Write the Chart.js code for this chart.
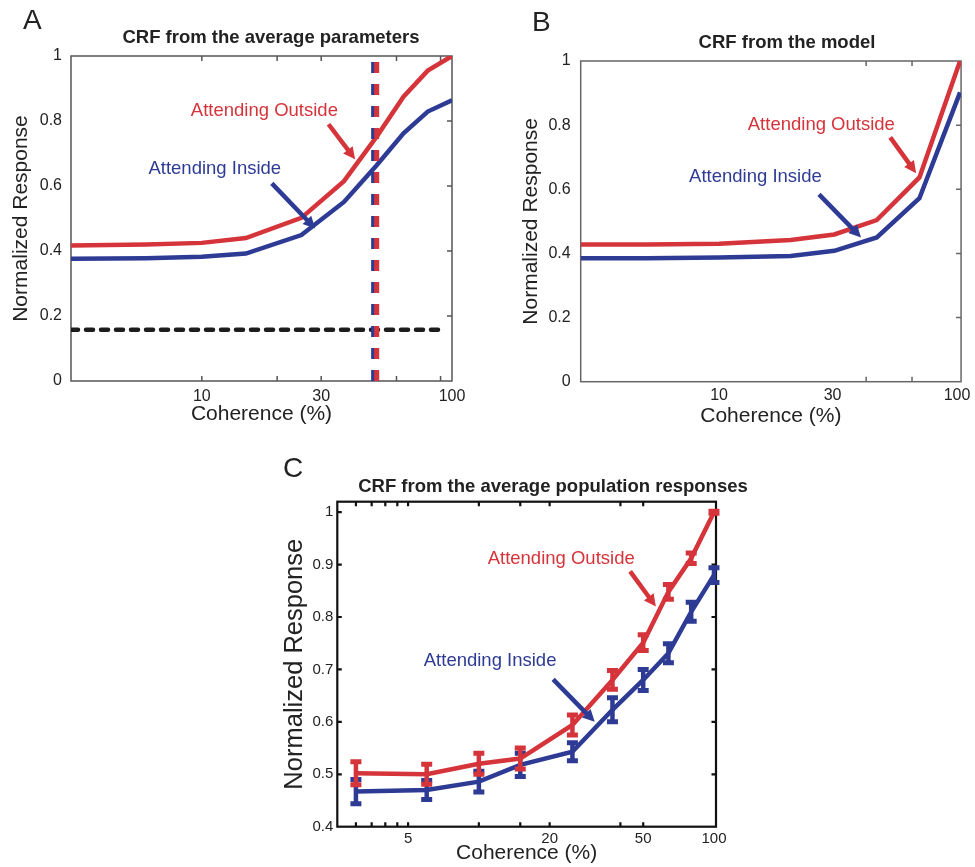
<!DOCTYPE html>
<html lang="en">

<head>
  <meta charset="UTF-8" />
  <title>CRF - attention</title>
  <style>
    * {
      margin: 0;
      padding: 0;
      box-sizing: border-box;
    }

    body {
      width: 975px;
      height: 867px;
      background: #fff;
      position: relative;
      overflow: hidden;
      font-family: 'Liberation Sans', Arial, sans-serif;
      color: #222;
    }

    .panel {
      position: absolute;
    }

    .letter {
      position: absolute;
      font-size: 28px;
      line-height: 28px;
    }

    .title {
      position: absolute;
      width: 500px;
      text-align: center;
      font-weight: bold;
      font-size: 18.5px;
      line-height: 20px;
    }
  </style>
</head>

<body>
  <div class="panel" style="left:0; top:0; width:480px; height:430px;"><canvas id="chartA"></canvas></div>
  <div class="panel" style="left:480px; top:0; width:495px; height:430px;"><canvas id="chartB"></canvas></div>
  <div class="panel" style="left:280px; top:455px; width:460px; height:412px;"><canvas id="chartC"></canvas></div>

  <div class="letter" style="left:23px; top:6px;">A</div>
  <div class="letter" style="left:532px; top:8px;">B</div>
  <div class="letter" style="left:283px; top:454px;">C</div>
  <div class="title" style="left:21px; top:27px;">CRF from the average parameters</div>
  <div class="title" style="left:537px; top:32px;">CRF from the model</div>
  <div class="title" style="left:303px; top:476px;">CRF from the average population responses</div>

  <script src="https://cdn.jsdelivr.net/npm/chart.js"></script>

  <script>
    const RED = '#d5343a';
    const BLUE = '#2e3b95';
    const FONT = "'Liberation Sans', Arial, sans-serif";
    const NARROW = "'Liberation Sans Narrow', 'Liberation Sans', Arial, sans-serif";

    // A - CRF from the average parameters
    const cohA = [3, 6, 10, 15, 25, 37, 50, 64, 80, 100];
    const outsideA = [0.417, 0.420, 0.425, 0.440, 0.502, 0.615, 0.752, 0.875, 0.955, 1.000];
    const insideA = [0.376, 0.378, 0.382, 0.392, 0.449, 0.551, 0.664, 0.762, 0.829, 0.864];
    const baselineA = 0.158;
    const baselineRangeA = [3, 94];
    const c50InsideA = 48.5;
    const c50OutsideA = 50;
    const xLabelsA = [10, 30, 100];
    const xMarksA = [10, 20, 30, 60, 90];

    // B - CRF from the model
    const cohB = [2.62, 5, 10, 20, 30.5, 46, 69.5, 103];
    const outsideB = [0.428, 0.428, 0.430, 0.442, 0.459, 0.504, 0.637, 1.000];
    const insideB = [0.385, 0.385, 0.387, 0.392, 0.408, 0.450, 0.572, 0.902];
    const xLabelsB = [10, 30, 100];
    const xMarksB = [41.5, 64.7];

    const yLabelsAB = [0, 0.2, 0.4, 0.6, 0.8, 1];
    const yMarksAB = [0.2, 0.4, 0.6, 0.8];

    // C - CRF from the average population responses
    const cohC = [3, 6, 10, 15, 25, 37, 50, 64, 80, 100];
    const outsideC = [0.502, 0.500, 0.520, 0.530, 0.594, 0.680, 0.751, 0.848, 0.912, 1.000];
    const outsideErrC = [0.022, 0.019, 0.020, 0.020, 0.019, 0.018, 0.015, 0.014, 0.010, 0.002];
    const insideC = [0.467, 0.470, 0.486, 0.518, 0.543, 0.623, 0.680, 0.731, 0.810, 0.880];
    const insideErrC = [0.023, 0.018, 0.020, 0.022, 0.017, 0.023, 0.020, 0.018, 0.018, 0.014];
    const xLabelsC = [5, 20, 50, 100];
    const xMarksC = [3, 3.5, 4, 4.5, 5, 10, 15, 20, 40, 50];
    const yLabelsC = [0.4, 0.5, 0.6, 0.7, 0.8, 0.9, 1];
    const yMarksC = [0.5, 0.6, 0.7, 0.8, 0.9, 1];

    const pts = (xs, ys) => xs.map((x, i) => ({ x, y: ys[i] }));

    // box around the plot with inward tick marks (matlab look)
    const framePlugin = {
      id: 'frame',
      beforeDatasetsDraw(chart, args, opts) {
        const { ctx, chartArea: a, scales: { x, y } } = chart;
        ctx.save();
        ctx.strokeStyle = opts.color;
        ctx.lineWidth = opts.width;
        ctx.strokeRect(a.left, a.top, a.right - a.left, a.bottom - a.top);
        ctx.beginPath();
        opts.xMarks.forEach(v => {
          const px = x.getPixelForValue(v);
          ctx.moveTo(px, a.bottom); ctx.lineTo(px, a.bottom - opts.len);
          ctx.moveTo(px, a.top); ctx.lineTo(px, a.top + opts.len);
        });
        opts.yMarks.forEach(v => {
          const py = y.getPixelForValue(v);
          if (opts.leftMarks) { ctx.moveTo(a.left, py); ctx.lineTo(a.left + opts.len, py); }
          ctx.moveTo(a.right, py); ctx.lineTo(a.right - opts.len, py);
        });
        ctx.stroke();
        ctx.restore();
      }
    };

    // error bars, drawn right after their own line
    const errorPlugin = {
      id: 'errbars',
      afterDatasetDraw(chart, args, opts) {
        const errs = opts.errors && opts.errors[args.index];
        if (!errs) return;
        const { ctx, scales: { y } } = chart;
        const ds = chart.data.datasets[args.index];
        ctx.save();
        ctx.strokeStyle = ds.borderColor;
        args.meta.data.forEach((p, i) => {
          const top = y.getPixelForValue(ds.data[i].y + errs[i]);
          const bot = y.getPixelForValue(ds.data[i].y - errs[i]);
          ctx.lineWidth = 4.5;
          ctx.beginPath();
          ctx.moveTo(p.x, top); ctx.lineTo(p.x, bot);
          ctx.stroke();
          ctx.lineWidth = 5;
          ctx.beginPath();
          ctx.moveTo(p.x - 5.5, top); ctx.lineTo(p.x + 5.5, top);
          ctx.moveTo(p.x - 5.5, bot); ctx.lineTo(p.x + 5.5, bot);
          ctx.stroke();
        });
        ctx.restore();
      }
    };

    function drawArrow(ctx, x1, y1, x2, y2, color) {
      const ang = Math.atan2(y2 - y1, x2 - x1);
      const head = 12, half = 6;
      ctx.strokeStyle = color;
      ctx.fillStyle = color;
      ctx.lineWidth = 4.5;
      ctx.beginPath();
      ctx.moveTo(x1, y1);
      ctx.lineTo(x2 - head * 0.7 * Math.cos(ang), y2 - head * 0.7 * Math.sin(ang));
      ctx.stroke();
      const bx = x2 - head * Math.cos(ang), by = y2 - head * Math.sin(ang);
      ctx.beginPath();
      ctx.moveTo(x2, y2);
      ctx.lineTo(bx + half * Math.sin(ang), by - half * Math.cos(ang));
      ctx.lineTo(bx - half * Math.sin(ang), by + half * Math.cos(ang));
      ctx.closePath();
      ctx.fill();
    }

    // "Attending ..." labels and their arrows, placed in data coordinates
    const notesPlugin = {
      id: 'notes',
      afterDatasetsDraw(chart, args, opts) {
        const { ctx, scales: { x, y } } = chart;
        ctx.save();
        ctx.font = '18.5px ' + FONT;
        ctx.textAlign = 'left';
        ctx.textBaseline = 'middle';
        opts.texts.forEach(t => {
          ctx.fillStyle = t.color;
          ctx.fillText(t.text, x.getPixelForValue(t.x), y.getPixelForValue(t.y));
        });
        opts.arrows.forEach(a => {
          drawArrow(ctx, x.getPixelForValue(a.x1), y.getPixelForValue(a.y1),
            x.getPixelForValue(a.x2), y.getPixelForValue(a.y2), a.color);
        });
        ctx.restore();
      }
    };

    function xScale(min, max, labels, o) {
      return {
        type: 'logarithmic',
        min, max,
        afterBuildTicks: s => { s.ticks = labels.map(v => ({ value: v })); },
        afterFit: s => { s.height = o.height; },
        grid: { display: false, drawTicks: false },
        border: { display: false },
        ticks: {
          autoSkip: false, maxRotation: 0, padding: o.pad, color: '#222',
          font: o.font, callback: v => String(v)
        },
        title: {
          display: true, text: 'Coherence (%)', color: '#222',
          font: { family: FONT, size: 21 }, padding: { top: 0, bottom: o.titlePad }
        }
      };
    }

    function yScale(min, max, labels, o) {
      return {
        type: 'linear',
        min, max,
        afterBuildTicks: s => { s.ticks = labels.map(v => ({ value: v })); },
        afterFit: s => { s.width = o.width; },
        grid: { display: false, drawTicks: false },
        border: { display: false },
        ticks: {
          padding: o.pad, color: '#222', font: o.font,
          callback: v => String(Math.round(v * 100) / 100)
        },
        title: {
          display: true, text: 'Normalized Response', color: '#222',
          font: { family: FONT, size: o.titleSize }, padding: { top: o.titlePad, bottom: 0 }
        }
      };
    }

    const common = {
      responsive: true,
      maintainAspectRatio: false,
      animation: false,
      events: []
    };

    function renderA() {
      new Chart(document.getElementById('chartA'), {
        type: 'line',
        data: {
          datasets: [
            { label: 'c50 outside', data: [{ x: c50OutsideA, y: 0 }, { x: c50OutsideA, y: 1 }], borderColor: RED, borderWidth: 5, borderDash: [11, 11], pointRadius: 0 },
            { label: 'c50 inside', data: [{ x: c50InsideA, y: 0 }, { x: c50InsideA, y: 1 }], borderColor: BLUE, borderWidth: 4.5, borderDash: [11, 11], pointRadius: 0 },
            { label: 'baseline', data: baselineRangeA.map(x => ({ x, y: baselineA })), borderColor: '#1c1c1c', borderWidth: 4.5, borderDash: [7, 8], borderCapStyle: 'round', pointRadius: 0 },
            { label: 'Attending Outside', data: pts(cohA, outsideA), borderColor: RED, borderWidth: 4.5, pointRadius: 0, tension: 0 },
            { label: 'Attending Inside', data: pts(cohA, insideA), borderColor: BLUE, borderWidth: 4.5, pointRadius: 0, tension: 0 }
          ]
        },
        options: {
          ...common,
          layout: { padding: { left: 0, top: 56, right: 28, bottom: 0 } },
          scales: {
            x: xScale(3, 100, xLabelsA, { height: 49, pad: 6, titlePad: 3, font: { family: FONT, size: 16 } }),
            y: yScale(0, 1, yLabelsAB, { width: 71, pad: 9, titlePad: 8.7, titleSize: 21, font: { family: FONT, size: 16 } })
          },
          plugins: {
            legend: { display: false },
            tooltip: { enabled: false },
            frame: { color: '#555', width: 1.5, len: 5, xMarks: xMarksA, yMarks: yMarksAB, leftMarks: false },
            notes: {
              texts: [
                { text: 'Attending Outside', x: 9.04, y: 0.831, color: RED },
                { text: 'Attending Inside', x: 6.12, y: 0.654, color: BLUE }
              ],
              arrows: [
                { x1: 32.1, y1: 0.79, x2: 41, y2: 0.682, color: RED },
                { x1: 19.05, y1: 0.608, x2: 28.4, y2: 0.469, color: BLUE }
              ]
            }
          }
        },
        plugins: [framePlugin, notesPlugin]
      });
    }

    function renderB() {
      new Chart(document.getElementById('chartB'), {
        type: 'line',
        data: {
          datasets: [
            { label: 'Attending Outside', data: pts(cohB, outsideB), borderColor: RED, borderWidth: 4.5, pointRadius: 0, tension: 0 },
            { label: 'Attending Inside', data: pts(cohB, insideB), borderColor: BLUE, borderWidth: 4.5, pointRadius: 0, tension: 0 }
          ]
        },
        options: {
          ...common,
          layout: { padding: { left: 0, top: 61, right: 13.3, bottom: 0 } },
          scales: {
            x: xScale(2.62, 104, xLabelsB, { height: 48.3, pad: 4.5, titlePad: 1.5, font: { family: FONT, size: 16 } }),
            y: yScale(0, 1, yLabelsAB, { width: 100.7, pad: 10, titlePad: 38.7, titleSize: 21, font: { family: FONT, size: 16 } })
          },
          plugins: {
            legend: { display: false },
            tooltip: { enabled: false },
            frame: { color: '#666', width: 1.5, len: 5, xMarks: xMarksB, yMarks: yMarksAB, leftMarks: false },
            notes: {
              texts: [
                { text: 'Attending Outside', x: 13.2, y: 0.80, color: RED },
                { text: 'Attending Inside', x: 7.48, y: 0.639, color: BLUE }
              ],
              arrows: [
                { x1: 52.4, y1: 0.762, x2: 67.3, y2: 0.65, color: RED },
                { x1: 26.3, y1: 0.584, x2: 39.5, y2: 0.45, color: BLUE }
              ]
            }
          }
        },
        plugins: [framePlugin, notesPlugin]
      });
    }

    function renderC() {
      new Chart(document.getElementById('chartC'), {
        type: 'line',
        data: {
          datasets: [
            { label: 'Attending Outside', data: pts(cohC, outsideC), borderColor: RED, borderWidth: 4.5, pointRadius: 0, tension: 0 },
            { label: 'Attending Inside', data: pts(cohC, insideC), borderColor: BLUE, borderWidth: 4.5, pointRadius: 0, tension: 0 }
          ]
        },
        options: {
          ...common,
          layout: { padding: { left: 0, top: 46.7, right: 24, bottom: 0 } },
          scales: {
            x: xScale(2.5, 102, xLabelsC, { height: 40.3, pad: 3, titlePad: 1, font: { family: NARROW, size: 15 } }),
            y: yScale(0.4, 1.02, yLabelsC, { width: 57.3, pad: 4, titlePad: 0, titleSize: 25.5, font: { family: NARROW, size: 15 } })
          },
          plugins: {
            legend: { display: false },
            tooltip: { enabled: false },
            frame: { color: '#111', width: 2.2, len: 4.5, xMarks: xMarksC, yMarks: yMarksC, leftMarks: true },
            errbars: { errors: [outsideErrC, insideErrC] },
            notes: {
              texts: [
                { text: 'Attending Outside', x: 10.9, y: 0.911, color: RED },
                { text: 'Attending Inside', x: 5.83, y: 0.716, color: BLUE }
              ],
              arrows: [
                { x1: 44, y1: 0.887, x2: 56.6, y2: 0.82, color: RED },
                { x1: 20.7, y1: 0.681, x2: 31.1, y2: 0.6, color: BLUE }
              ]
            }
          }
        },
        plugins: [framePlugin, errorPlugin, notesPlugin]
      });
    }

    renderA();
    renderB();
    renderC();
  </script>
</body>

</html>
